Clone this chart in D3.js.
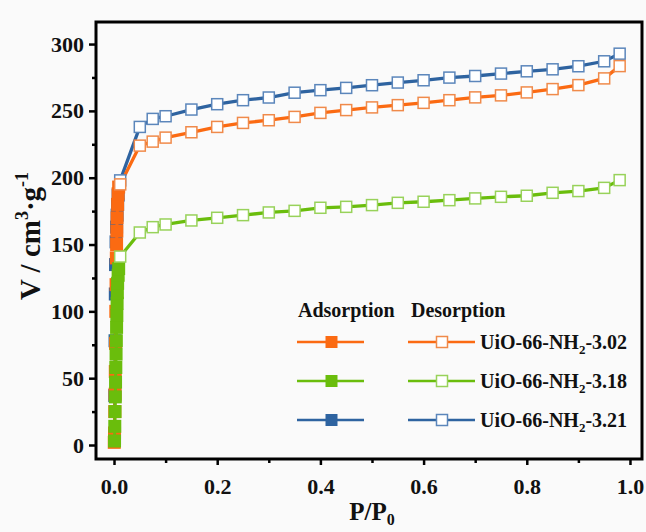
<!DOCTYPE html>
<html>
<head>
<meta charset="utf-8">
<script src="https://cdn.jsdelivr.net/npm/d3@7"></script>
<style>
  html, body { margin: 0; padding: 0; background: #fafafa; }
  svg { display: block; font-family: "Liberation Serif", "Times New Roman", serif; font-weight: bold; }
</style>
</head>
<body>
<svg width="646" height="532"></svg>
<script>
"use strict";

// 데이터
const seriesNames = ["UiO-66-NH2-3.02", "UiO-66-NH2-3.18", "UiO-66-NH2-3.21"];
const seriesColors = ["#fb6a12", "#6abd0c", "#2e63a0"];
const seriesStrokes = ["#f08a4a", "#98d25a", "#5b86bb"];

// 흡착 (저압 구간)
const adsP_302 = [0.0005, 0.001, 0.0015, 0.002, 0.0025, 0.003, 0.0035, 0.004, 0.0045, 0.005, 0.0055, 0.006, 0.007, 0.008, 0.009];
const adsV_302 = [2, 9, 25, 38, 55, 76, 100, 120, 140, 150, 160, 170, 180, 188, 193];
const adsP_318 = [0.001, 0.0015, 0.002, 0.0025, 0.003, 0.0035, 0.004, 0.0045, 0.005, 0.0055, 0.006, 0.0065, 0.007, 0.008, 0.009];
const adsV_318 = [3, 14, 25, 36, 47, 58, 68, 78, 88, 97, 106, 114, 121, 127, 132];
const adsP_321 = [0.001, 0.0015, 0.002, 0.0025, 0.003, 0.004, 0.005, 0.006, 0.007, 0.008];
const adsV_321 = [5, 37, 78, 113, 135, 152, 163, 172, 180, 187];

// 탈착
const desP = [0.98, 0.95, 0.90, 0.85, 0.80, 0.75, 0.70, 0.65, 0.60, 0.55, 0.50, 0.45, 0.40, 0.35, 0.30, 0.25, 0.20, 0.15, 0.10, 0.075, 0.05, 0.012];
const desV_302 = [283.5, 274.3, 269.3, 266.3, 263.8, 261.6, 260.1, 258.0, 256.0, 254.3, 252.6, 250.6, 248.5, 245.5, 243, 241, 238, 234, 230, 227, 224, 195];
const desV_318 = [198.2, 192.4, 190.0, 188.7, 186.5, 185.7, 184.5, 183.2, 182.0, 181.2, 179.5, 178.2, 177.5, 175.2, 174, 172, 170, 168, 165, 163, 159, 141];
const desV_321 = [292.8, 287.1, 283.4, 281.1, 279.6, 277.9, 276.1, 274.9, 272.9, 271.2, 269.2, 267.2, 265.5, 263.6, 260, 258, 255, 251, 246, 244, 238, 198];

const xTicks = [0, 0.2, 0.4, 0.6, 0.8, 1.0];
const xMinor = [0.1, 0.3, 0.5, 0.7, 0.9];
const yTicks = [0, 50, 100, 150, 200, 250, 300];
const yMinor = [25, 75, 125, 175, 225, 275];

const svg = d3.select("svg");
const L = 96, R = 642, T = 22, B = 459;

const x = d3.scaleLinear().domain([-0.0349, 1.0233]).range([L, R]);
const y = d3.scaleLinear().domain([-10.47, 316.5]).range([B, T]);

// 축
const gx = svg.append("g").attr("transform", `translate(0,${B})`);
gx.call(d3.axisBottom(x).tickValues(xTicks).tickSize(6).tickSizeOuter(0).tickPadding(13).tickFormat(d3.format(".1f")));
gx.call(g => g.select(".domain").remove());
gx.selectAll(".tick line").attr("stroke", "#000").attr("stroke-width", 2.5);
gx.selectAll(".tick text").attr("font-size", 22).attr("font-family", "Liberation Serif").attr("font-weight", "bold").attr("fill", "#111");
svg.append("g").attr("transform", `translate(0,${B})`)
  .call(d3.axisBottom(x).tickValues(xMinor).tickSize(4).tickSizeOuter(0).tickFormat(""))
  .call(g => g.select(".domain").remove())
  .selectAll(".tick line").attr("stroke", "#000").attr("stroke-width", 2.5);

const gy = svg.append("g").attr("transform", `translate(${L},0)`);
gy.call(d3.axisLeft(y).tickValues(yTicks).tickSize(7).tickSizeOuter(0).tickPadding(5));
gy.call(g => g.select(".domain").remove());
gy.selectAll(".tick line").attr("stroke", "#000").attr("stroke-width", 2.5);
gy.selectAll(".tick text").attr("font-size", 22).attr("font-family", "Liberation Serif").attr("font-weight", "bold").attr("fill", "#111");
svg.append("g").attr("transform", `translate(${L},0)`)
  .call(d3.axisLeft(y).tickValues(yMinor).tickSize(4).tickSizeOuter(0).tickFormat(""))
  .call(g => g.select(".domain").remove())
  .selectAll(".tick line").attr("stroke", "#000").attr("stroke-width", 2.5);

// 데이터 그리기
const plot = svg.append("g");
const line = d3.line().x(d => x(d[0])).y(d => y(d[1]));

const adsSets = [
  { p: adsP_321, v: adsV_321, k: 2 },
  { p: adsP_302, v: adsV_302, k: 0 },
  { p: adsP_318, v: adsV_318, k: 1 }
];
const desSets = [
  { p: desP, v: desV_321, k: 2 },
  { p: desP, v: desV_302, k: 0 },
  { p: desP, v: desV_318, k: 1 }
];

adsSets.forEach(s => {
  const pts = s.p.map((p, i) => [p, s.v[i]]);
  plot.append("path").datum(pts).attr("d", line)
    .attr("fill", "none").attr("stroke", seriesColors[s.k]).attr("stroke-width", 3);
  plot.selectAll(null).data(pts).enter().append("rect")
    .attr("x", d => x(d[0]) - 6.5).attr("y", d => y(d[1]) - 6.5)
    .attr("width", 13).attr("height", 13)
    .attr("fill", seriesColors[s.k]);
});

desSets.forEach(s => {
  const pts = s.p.map((p, i) => [p, s.v[i]]);
  plot.append("path").datum(pts).attr("d", line)
    .attr("fill", "none").attr("stroke", seriesColors[s.k]).attr("stroke-width", 3.3);
});
desSets.forEach(s => {
  const pts = s.p.map((p, i) => [p, s.v[i]]);
  plot.selectAll(null).data(pts).enter().append("rect")
    .attr("x", d => x(d[0]) - 5.5).attr("y", d => y(d[1]) - 5.5)
    .attr("width", 11).attr("height", 11)
    .attr("fill", "#fff").attr("stroke", seriesStrokes[s.k]).attr("stroke-width", 1.5);
});

// 프레임
svg.append("rect").attr("x", L).attr("y", T).attr("width", R - L).attr("height", B - T)
  .attr("fill", "none").attr("stroke", "#000").attr("stroke-width", 3);

// 범례
const leg = svg.append("g").attr("font-size", 20).attr("fill", "#111");
leg.append("text").attr("x", 298).attr("y", 317).text("Adsorption");
leg.append("text").attr("x", 411).attr("y", 317).text("Desorption");
const rowY = [342, 381, 420];
seriesNames.forEach((name, k) => {
  const ry = rowY[k];
  leg.append("line").attr("x1", 297).attr("x2", 364).attr("y1", ry).attr("y2", ry)
    .attr("stroke", seriesColors[k]).attr("stroke-width", 2.5);
  leg.append("rect").attr("x", 325.5).attr("y", ry - 6).attr("width", 12).attr("height", 12)
    .attr("fill", seriesColors[k]);
  leg.append("line").attr("x1", 408).attr("x2", 475).attr("y1", ry).attr("y2", ry)
    .attr("stroke", seriesColors[k]).attr("stroke-width", 2.5);
  leg.append("rect").attr("x", 436.5).attr("y", ry - 5.5).attr("width", 11).attr("height", 11)
    .attr("fill", "#fff").attr("stroke", seriesStrokes[k]).attr("stroke-width", 1.5);
  const t = leg.append("text").attr("x", 480).attr("y", ry + 7);
  const parts = name.split("NH2");
  t.append("tspan").text(parts[0] + "NH");
  t.append("tspan").attr("font-size", 13).attr("dy", 5).text("2");
  t.append("tspan").attr("dy", -5).text(parts[1]);
});

// 축 제목
const xt = svg.append("text").attr("x", 372).attr("y", 520).attr("text-anchor", "middle")
  .attr("font-size", 25).attr("fill", "#111");
xt.append("tspan").text("P/P");
xt.append("tspan").attr("font-size", 16).attr("dy", 5).text("0");

const yt = svg.append("text").attr("transform", "translate(40,236) rotate(-90)")
  .attr("text-anchor", "middle").attr("font-size", 29).attr("fill", "#111");
yt.append("tspan").text("V / cm");
yt.append("tspan").attr("font-size", 18).attr("dy", -12).text("3");
yt.append("tspan").attr("dy", 12).text("·g");
yt.append("tspan").attr("font-size", 18).attr("dy", -12).text("-1");
</script>
</body>
</html>
